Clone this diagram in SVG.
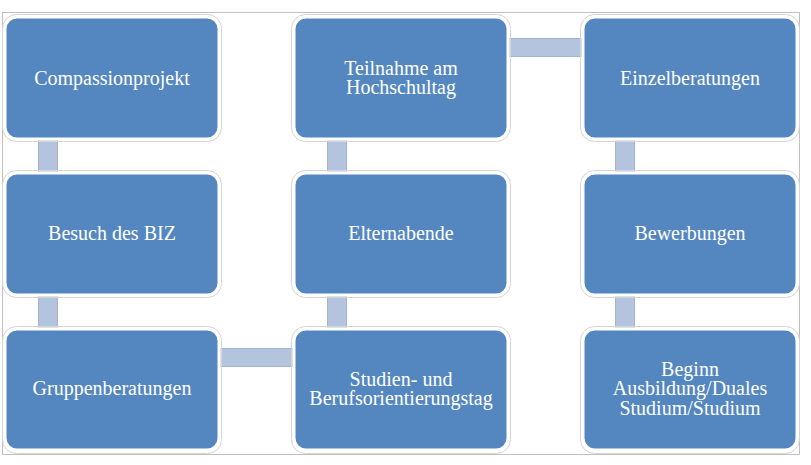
<svg xmlns="http://www.w3.org/2000/svg" width="811" height="465" viewBox="0 0 811 465">
<style>
.halo{fill:none;stroke:#d4d4d4;stroke-width:1}
.box{fill:#5487C0;stroke:#ffffff;stroke-width:3}
.conn{fill:#B5C4DE;stroke:#A6B4CB;stroke-width:1}
text{font-family:"Liberation Serif","Times New Roman",serif;font-size:20px;fill:#ffffff;text-anchor:middle}
</style>
<rect x="0" y="0" width="811" height="465" fill="#ffffff"/>
<rect x="2.5" y="12.5" width="797" height="442" fill="none" stroke="#c0c0c0" stroke-width="1"/>
<g id="connectors">
<rect class="conn" x="38.5" y="138" width="19" height="36"/>
<rect class="conn" x="38.5" y="294" width="19" height="36"/>
<rect class="conn" x="327.5" y="138" width="19" height="36"/>
<rect class="conn" x="327.5" y="294" width="19" height="36"/>
<rect class="conn" x="615.5" y="138" width="19" height="36"/>
<rect class="conn" x="615.5" y="294" width="19" height="36"/>
<rect class="conn" x="217" y="348.5" width="79" height="18"/>
<rect class="conn" x="506" y="38.5" width="79" height="18"/>
</g>
<g id="n1"><rect class="halo" x="2.5" y="14.5" width="219" height="127" rx="14"/><rect class="box" x="5" y="17" width="214" height="122" rx="12"/><text x="112" y="84.5">Compassionprojekt</text></g>
<g id="n2"><rect class="halo" x="2.5" y="170.5" width="219" height="127" rx="14"/><rect class="box" x="5" y="173" width="214" height="122" rx="12"/><text x="112" y="240">Besuch des BIZ</text></g>
<g id="n3"><rect class="halo" x="2.5" y="326.5" width="219" height="127" rx="14"/><rect class="box" x="5" y="329" width="214" height="121" rx="12"/><text x="112" y="395">Gruppenberatungen</text></g>
<g id="n4"><rect class="halo" x="291.5" y="326.5" width="219" height="127" rx="14"/><rect class="box" x="294" y="329" width="214" height="121" rx="12"/><text x="401" y="385.5">Studien- und</text><text x="401" y="405">Berufsorientierungstag</text></g>
<g id="n5"><rect class="halo" x="291.5" y="170.5" width="219" height="127" rx="14"/><rect class="box" x="294" y="173" width="214" height="122" rx="12"/><text x="401" y="240">Elternabende</text></g>
<g id="n6"><rect class="halo" x="291.5" y="14.5" width="219" height="127" rx="14"/><rect class="box" x="294" y="17" width="214" height="122" rx="12"/><text x="401" y="74.5">Teilnahme am</text><text x="401" y="94">Hochschultag</text></g>
<g id="n7"><rect class="halo" x="580.5" y="14.5" width="219" height="127" rx="14"/><rect class="box" x="583" y="17" width="214" height="122" rx="12"/><text x="690" y="84.5">Einzelberatungen</text></g>
<g id="n8"><rect class="halo" x="580.5" y="170.5" width="219" height="127" rx="14"/><rect class="box" x="583" y="173" width="214" height="122" rx="12"/><text x="690" y="240">Bewerbungen</text></g>
<g id="n9"><rect class="halo" x="580.5" y="326.5" width="219" height="127" rx="14"/><rect class="box" x="583" y="329" width="214" height="121" rx="12"/><text x="690" y="375.5">Beginn</text><text x="690" y="395">Ausbildung/Duales</text><text x="690" y="414.5">Studium/Studium</text></g>
</svg>
